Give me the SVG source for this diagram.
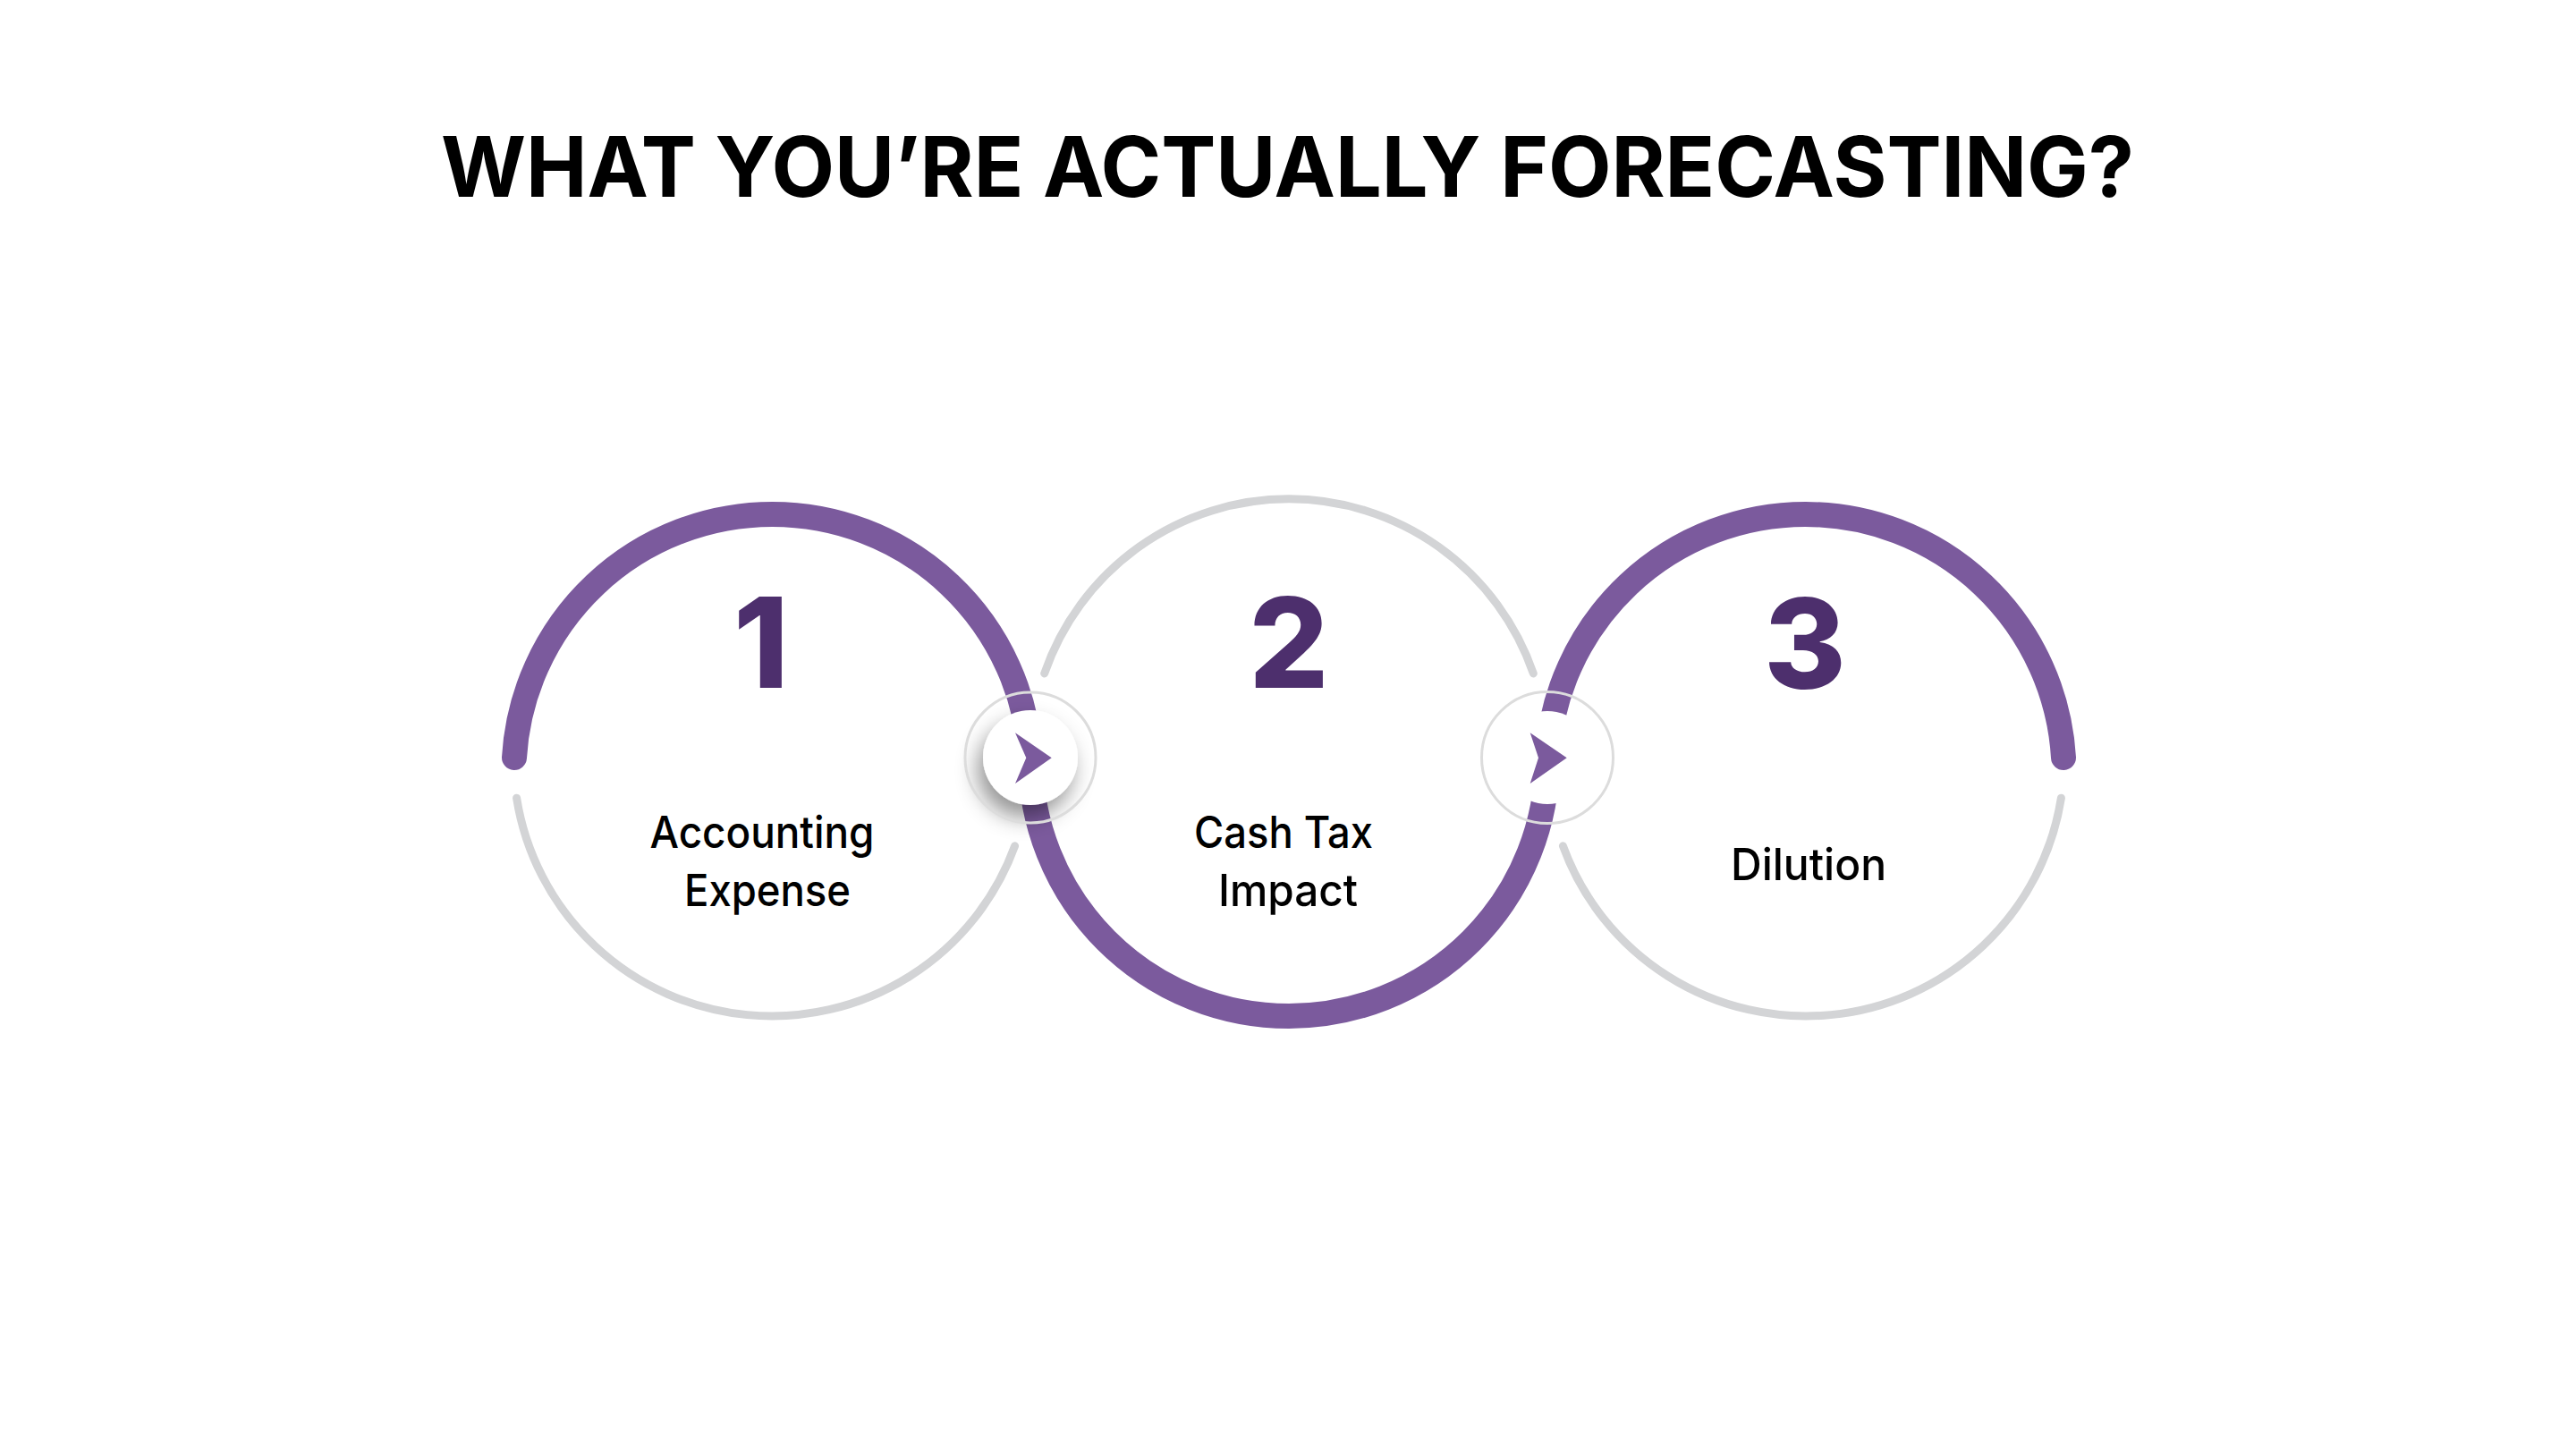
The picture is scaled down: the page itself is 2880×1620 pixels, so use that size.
<svg xmlns="http://www.w3.org/2000/svg" width="2880" height="1620" viewBox="0 0 2880 1620">
  <defs>
    <style>
      .title { font-family: Inter, "Liberation Sans", sans-serif; font-weight: 700; font-size: 94px; fill: #000000; }
      .num { font-family: Inter, "Liberation Sans", sans-serif; font-weight: 800; font-size: 140px; fill: #4D2F6D; text-anchor: middle; }
      .label { font-family: Inter, "Liberation Sans", sans-serif; font-weight: 500; font-size: 50px; fill: #000000; text-anchor: middle; }
      .track { fill: none; stroke: #D3D4D6; stroke-width: 9; stroke-linecap: round; }
      .flow { fill: none; stroke: #7B5A9D; stroke-width: 28; stroke-linecap: round; }
      .ring { fill: none; stroke: #DCDCDC; stroke-width: 3; }
      .knob { fill: #FFFFFF; }
      .arrow { fill: #7B5A9D; }
    </style>
    <filter id="shadow" x="-80%" y="-80%" width="260%" height="260%">
      <feDropShadow dx="-6" dy="14" stdDeviation="12" flood-color="#000000" flood-opacity="0.42"/>
    </filter>
  </defs>

  <rect x="0" y="0" width="2880" height="1620" fill="#FFFFFF"/>

  <text class="title" x="493" y="220" textLength="1893" lengthAdjust="spacingAndGlyphs">WHAT YOU’RE ACTUALLY FORECASTING?</text>

  <g id="connectors">
    <path class="track" d="M 577.6 892.2 A 289 289 0 0 0 1134.6 945.8"/>
    <path class="track" d="M 1167.7 752.9 A 289 289 0 0 1 1714.3 752.9"/>
    <path class="track" d="M 1747.4 945.8 A 289 289 0 0 0 2304.4 892.2"/>
    <path class="flow" d="M 575 847 A 289 289 0 0 1 1152 847 A 289 289 0 0 0 1730 847 A 289 289 0 0 1 2307 847"/>
  </g>

  <g id="node-1">
    <text class="num" x="851" y="769">1</text>
    <text class="label" x="852" y="948" textLength="251" lengthAdjust="spacingAndGlyphs">Accounting</text>
    <text class="label" x="858" y="1013" textLength="186" lengthAdjust="spacingAndGlyphs">Expense</text>
  </g>

  <g id="node-2">
    <text class="num" x="1441" y="769">2</text>
    <text class="label" x="1435" y="948" textLength="200" lengthAdjust="spacingAndGlyphs">Cash Tax</text>
    <text class="label" x="1440" y="1013" textLength="156" lengthAdjust="spacingAndGlyphs">Impact</text>
  </g>

  <g id="node-3">
    <text class="num" x="2018" y="770">3</text>
    <text class="label" x="2022" y="984" textLength="174" lengthAdjust="spacingAndGlyphs">Dilution</text>
  </g>

  <g id="button-1">
    <circle class="knob" cx="1152" cy="847" r="53" filter="url(#shadow)"/>
    <circle class="ring" cx="1152" cy="847" r="73"/>
    <polygon class="arrow" points="1135,819.3 1175.7,847.3 1135,876 1147.3,847.3"/>
  </g>

  <g id="button-2">
    <circle class="knob" cx="1730" cy="847" r="52"/>
    <circle class="ring" cx="1730" cy="847" r="73.5"/>
    <polygon class="arrow" points="1710.7,819.3 1751.7,847.3 1710.7,876 1720,847.3"/>
  </g>
</svg>
